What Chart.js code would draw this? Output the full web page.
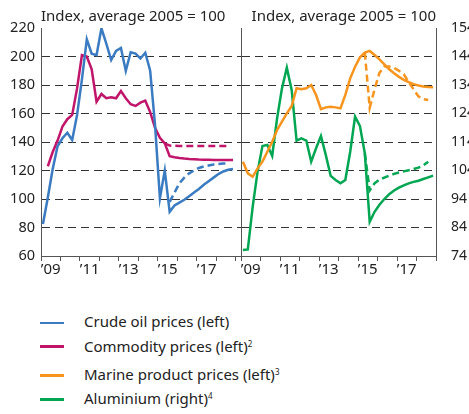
<!DOCTYPE html>
<html lang="en">
<head>
<meta charset="UTF-8">
<title>Commodity prices</title>
<script src="https://cdn.jsdelivr.net/npm/chart.js"></script>
<style>
  body { margin: 0; background: #fff; font-family: 'Noto Sans', sans-serif; color: #222; }
  .wrap { position: relative; width: 469px; height: 414px; overflow: hidden; }
  canvas { position: absolute; top: 0; }
  .titulo { position: absolute; top: 5px; font-size: 15px; line-height: 20px; white-space: nowrap; }
  .leg { position: absolute; left: 84px; font-size: 15px; line-height: 20px; white-space: nowrap; }
  .linha { position: absolute; left: 40px; width: 24px; height: 2.5px; }
  sup { font-size: 8px; vertical-align: 5px; line-height: 0; }
</style>
</head>
<body>
<div class="wrap">
  <canvas id="grafEsq" width="245" height="290" style="left:0"></canvas>
  <canvas id="grafDir" width="233" height="290" style="left:236px"></canvas>
  <div class="titulo" style="left:41px">Index, average 2005 = 100</div>
  <div class="titulo" style="right:33px">Index, average 2005 = 100</div>

  <div class="linha" style="top:321.5px; background:#3a7bc2"></div>
  <div class="leg" style="top:311px">Crude oil prices (left)</div>
  <div class="linha" style="top:345px; background:#c0156a"></div>
  <div class="leg" style="top:335.5px">Commodity prices (left)<sup>2</sup></div>
  <div class="linha" style="top:374px; background:#f7941d"></div>
  <div class="leg" style="top:364px">Marine product prices (left)<sup>3</sup></div>
  <div class="linha" style="top:398px; background:#00a651"></div>
  <div class="leg" style="top:388px">Aluminium (right)<sup>4</sup></div>
</div>

<script>
    // quarterly data, 2009Q1 - 2018Q4
    const quarters = [];
    for (let ano = 2009; ano <= 2018; ano++) {
        for (let q = 1; q <= 4; q++) quarters.push(ano + 'Q' + q);
    }

    const tickYears = [2009, 2010, 2011, 2012, 2013, 2014, 2015, 2016, 2017, 2018, 2019];
    const labelYears = [2009, 2011, 2013, 2015, 2017];
    const labelTexts = ['\u201909', '\u201911', '\u201913', '\u201915', '\u201917'];

    const leftTicks = [60, 80, 100, 120, 140, 160, 180, 200, 220];
    const rightTicks = [74, 84, 94, 104, 114, 124, 134, 144, 154];

    // left panel
    const oilPrices = [82.5, 101, 121, 137, 142.6, 146.5, 141.4, 159, 184, 212, 202, 201, 219.8, 209, 197.5, 204,
        206, 190, 203, 202, 198.6, 202.6, 190, 152, 100.5, 120, 91, 95.5, 97.5, 99.5, 102, 104.5, 107, 110, 112.5,
        115, 117.5, 119.3, 120.5, 121];
    const oilOldStart = 26;
    const oilOld = [98, 104.5, 111, 115, 118, 120, 121.8, 122.8, 123.5, 124.2, 124.6, 124.9, 125];

    const commodityStart = 1;
    const commodityPrices = [123, 133, 141, 150.8, 156, 159, 177.6, 201, 200, 191, 168.3, 173.7, 170.7, 171.4,
        170.7, 175.8, 170.7, 166.5, 165.3, 167.6, 169, 161, 150, 143, 139, 130, 129.3, 128.8, 128.4, 128.1, 127.9,
        127.7, 127.6, 127.5, 127.4, 127.4, 127.3, 127.3, 127.3];
    const commodityOldStart = 25;
    const commodityOld = [139, 137.5, 137.3, 137.2, 137.2, 137.2, 137.2, 137.2, 137.2, 137.2, 137.2, 137.2, 137.2, 137.2];

    // right panel
    const marinePrices = [126.2, 118, 115.6, 121.5, 126.2, 133.2, 140.2, 148.4, 154.3, 160.1, 165.3, 177.7, 177,
        177.7, 180, 173, 163, 164.3, 164.8, 164.3, 163.6, 173, 184.7, 192.8, 199.4, 202.7, 203.9, 201, 198, 194.5,
        191, 188.2, 185.7, 183.6, 182, 180.6, 179.6, 179, 178.6, 178.4];
    const marineOldStart = 25;
    const marineOld = [202.7, 164, 177, 188.5, 193, 193, 192, 190, 187.5, 182, 177, 172, 170, 169.5];

    const aluminiumPrices = [76.1, 76.3, 91.3, 103.6, 112.6, 113, 109.1, 122.3, 132.8, 140.1, 132.2, 114.5, 115.3,
        114.5, 107.1, 111.8, 116.1, 109.4, 102.1, 100.7, 99.5, 100.7, 110.6, 122.9, 119.6, 110, 86, 89.5, 92, 94,
        95.7, 97, 98, 98.8, 99.5, 100, 100.4, 101, 101.6, 102.2];
    const aluminiumOldStart = 25;
    const aluminiumOld = [110, 97, 99.5, 100.8, 101.5, 102.2, 102.8, 103.3, 103.7, 104.1, 104.5, 105, 105.8, 107.1];

    const AZUL = '#3a7bc2', MAGENTA = '#c0156a', LARANJA = '#f7941d', VERDE = '#00a651';
    const EIXO = '#555', GRADE = '#333';

    Chart.defaults.font.family = "'Noto Sans', sans-serif";
    Chart.defaults.font.size = 15;
    Chart.defaults.color = '#222';

    function quarterX(rotulo) {
        const ano = Number(rotulo.slice(0, 4));
        const q = Number(rotulo.slice(5));
        return ano + (q - 0.6) / 4;
    }

    function pontos(valores, inicio) {
        inicio = inicio || 0;
        return valores.map(function (v, i) {
            return { x: quarterX(quarters[inicio + i]), y: v };
        });
    }

    function serie(rotulo, valores, inicio, cor, eixo, tracejado) {
        return {
            label: rotulo,
            data: pontos(valores, inicio),
            borderColor: cor,
            backgroundColor: cor,
            borderWidth: 2.5,
            borderDash: tracejado ? [7, 4] : [],
            pointRadius: 0,
            tension: 0,
            yAxisID: eixo
        };
    }

    function eixoX(maximo) {
        return {
            type: 'linear',
            min: 2009,
            max: maximo,
            afterBuildTicks: function (scale) {
                const lista = tickYears.concat(labelYears.map(function (a) { return a + 0.5; }));
                lista.sort(function (a, b) { return a - b; });
                scale.ticks = lista.map(function (v) { return { value: v }; });
            },
            afterFit: function (scale) { scale.height = 34; },
            ticks: {
                autoSkip: false,
                maxRotation: 0,
                minRotation: 0,
                padding: 0,
                callback: function (v) {
                    const k = labelYears.indexOf(v - 0.5);
                    return k >= 0 ? labelTexts[k] : '';
                }
            },
            grid: {
                display: true,
                drawOnChartArea: false,
                drawTicks: true,
                tickLength: 5,
                tickColor: function (ctx) {
                    return ctx.tick && Number.isInteger(ctx.tick.value) ? EIXO : 'rgba(0,0,0,0)';
                }
            },
            border: { display: true, color: EIXO, width: 1 }
        };
    }

    function gradeY(ticksVals, mostrarRotulos, largura) {
        return {
            type: 'linear',
            position: 'left',
            min: ticksVals[0],
            max: ticksVals[ticksVals.length - 1],
            afterBuildTicks: function (scale) {
                scale.ticks = ticksVals.map(function (v) { return { value: v }; });
            },
            afterFit: function (scale) { scale.width = largura; },
            ticks: { display: mostrarRotulos, padding: 6, font: { size: 14.5 } },
            grid: {
                display: true,
                drawTicks: false,
                lineWidth: 1,
                color: function (ctx) {
                    const v = ctx.tick ? ctx.tick.value : null;
                    return (v === ticksVals[0] || v === ticksVals[ticksVals.length - 1]) ? 'rgba(0,0,0,0)' : GRADE;
                }
            },
            border: { display: true, color: EIXO, width: 1, dash: [8, 5] }
        };
    }

    // left panel: crude oil and commodity prices
    new Chart(document.getElementById('grafEsq'), {
        type: 'line',
        data: {
            datasets: [
                serie('Crude oil prices (left)', oilPrices, 0, AZUL, 'y', false),
                serie('Crude oil, earlier forecast', oilOld, oilOldStart, AZUL, 'y', true),
                serie('Commodity prices (left)', commodityPrices, commodityStart, MAGENTA, 'y', false),
                serie('Commodity, earlier forecast', commodityOld, commodityOldStart, MAGENTA, 'y', true)
            ]
        },
        options: {
            responsive: false,
            animation: false,
            devicePixelRatio: 1,
            layout: { padding: { top: 28, right: 4, left: 0, bottom: 0 } },
            plugins: { legend: { display: false }, tooltip: { enabled: false } },
            scales: {
                x: eixoX(2019.26),
                y: gradeY(leftTicks, true, 41),
                yBorda: {
                    type: 'linear',
                    position: 'right',
                    afterFit: function (scale) { scale.width = 0; },
                    ticks: { display: false },
                    grid: { display: false },
                    border: { display: true, color: EIXO, width: 1 }
                }
            }
        }
    });

    // right panel: marine products (left scale) and aluminium (right scale)
    new Chart(document.getElementById('grafDir'), {
        type: 'line',
        data: {
            datasets: [
                serie('Marine product prices (left)', marinePrices, 0, LARANJA, 'yl', false),
                serie('Marine, earlier forecast', marineOld, marineOldStart, LARANJA, 'yl', true),
                serie('Aluminium (right)', aluminiumPrices, 0, VERDE, 'yr', false),
                serie('Aluminium, earlier forecast', aluminiumOld, aluminiumOldStart, VERDE, 'yr', true)
            ]
        },
        options: {
            responsive: false,
            animation: false,
            devicePixelRatio: 1,
            layout: { padding: { top: 28, right: 0, left: 0, bottom: 0 } },
            plugins: { legend: { display: false }, tooltip: { enabled: false } },
            scales: {
                x: eixoX(2019),
                yl: gradeY(leftTicks, false, 5),
                yr: {
                    type: 'linear',
                    position: 'right',
                    min: rightTicks[0],
                    max: rightTicks[rightTicks.length - 1],
                    afterBuildTicks: function (scale) {
                        scale.ticks = rightTicks.map(function (v) { return { value: v }; });
                    },
                    afterFit: function (scale) { scale.width = 33; },
                    ticks: { padding: 7, font: { size: 14 } },
                    grid: { display: false },
                    border: { display: true, color: EIXO, width: 1 }
                }
            }
        }
    });
</script>
</body>
</html>
